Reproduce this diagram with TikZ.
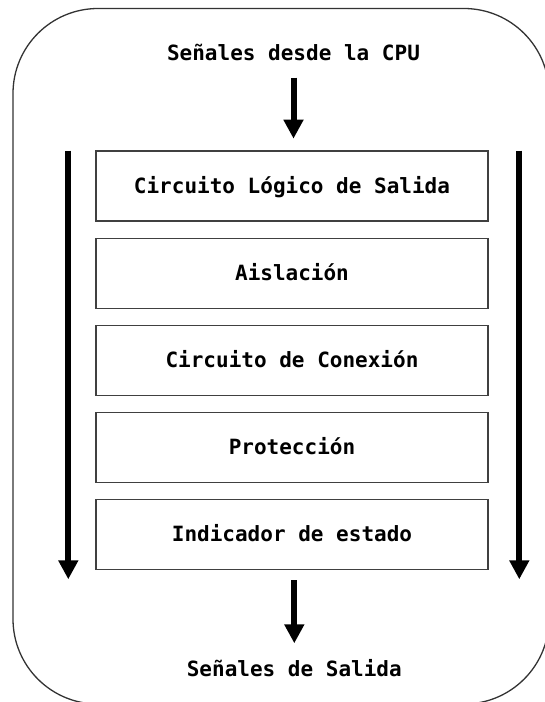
\documentclass[tikz,border=0pt]{standalone}
\usepackage{fontspec}
\setmonofont{DejaVu Sans Mono}
\usepackage{tikz}
\usetikzlibrary{arrows.meta}
\usetikzlibrary{positioning}

\begin{document}
\begin{tikzpicture}[x=1pt, y=-1pt,
        frame/.style={draw=black!80, line width=1.3pt, rounded corners=85pt},
        stage/.style={draw=black!75, line width=1.3pt, minimum width=392pt, minimum height=70pt,
            text height=14pt, text depth=0pt, inner sep=0pt, font=\lbl},
        label/.style={anchor=base, inner sep=0pt, font=\lbl},
        flow/.style={line width=6pt, -{Triangle[width=19pt, length=19pt]}}]
        \newcommand{\lbl}{\ttfamily\bfseries\fontsize{21}{25}\selectfont}
        \useasboundingbox (0, 0) rectangle (545, 702);
        \clip (0, 0) rectangle (545, 702);
        \draw[frame] (13, 8.5) rectangle (549, 704);
        \node[label] (cpu) at (293.5, 60) {Señales desde la CPU};
        \node[label] (out) at (294.3, 676.7) {Señales de Salida};
        \foreach \t [count=\k] in {Circuito Lógico de Salida, Aislación, Circuito de Conexión, Protección, Indicador de estado}
            \node[stage] (b\k) at (292, 98.8 + 87.2*\k) {\t};
        \coordinate (ltop) at (68.3, 150.7);
        \coordinate (lbot) at (68.3, 579.3);
        \coordinate (rtop) at (519.3, 150.7);
        \coordinate (rbot) at (519.3, 579.3);
        \draw[flow, shorten <=17.7pt, shorten >=11.7pt] (cpu.base) -- (cpu.base |- b1.north);
        \draw[flow, shorten <=9.7pt, shorten >=33.4pt] (out.base |- b5.south) -- (out.base);
        \draw[flow] (ltop) -- (lbot);
        \draw[flow] (rtop) -- (rbot);
    \end{tikzpicture}
\end{document}
